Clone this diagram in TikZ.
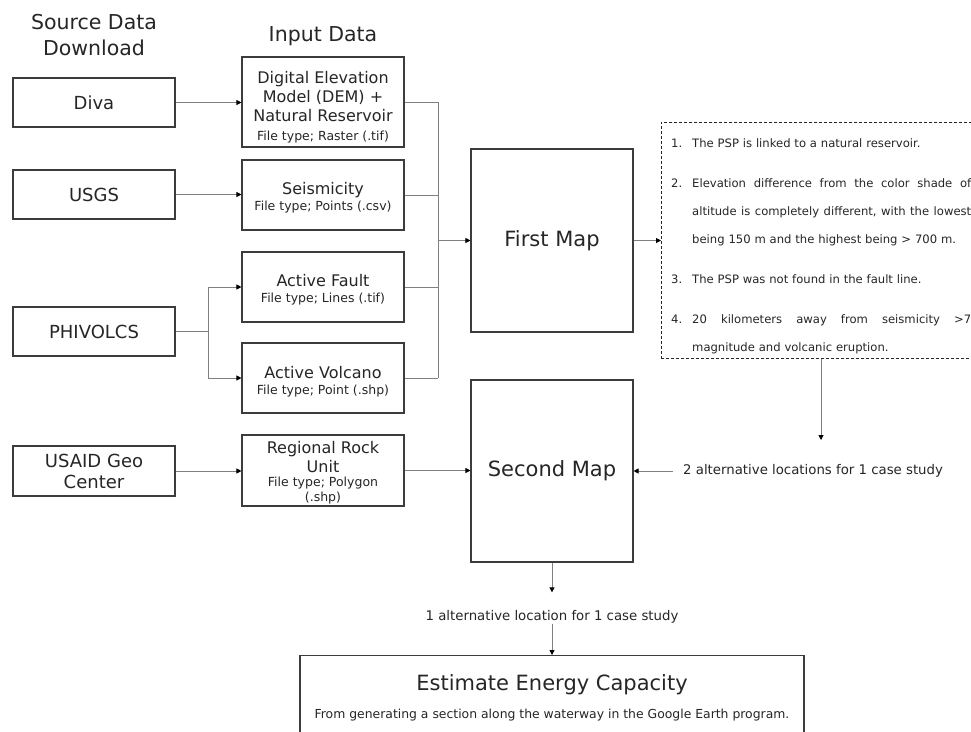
\documentclass[tikz,border=0pt]{standalone}
\usepackage{fontspec}
\setmainfont{DejaVu Sans}
\usetikzlibrary{arrows.meta}
\newcommand\myfs[2]{\fontsize{#1}{#2}\selectfont}
\newcommand\ftp[1]{{\myfs{12.5}{14}#1}}
\newcommand\jline[1]{\makebox[279pt][l]{#1}}
\definecolor{txt}{HTML}{262626}
\definecolor{bord}{HTML}{3C3C3C}
\definecolor{lin}{HTML}{808080}
\begin{document}
\begin{tikzpicture}[x=1pt,y=-1pt,
 box/.style={draw=bord, line width=1.1pt, minimum width=162pt, inner sep=0pt, align=center, text=txt},
 srcbox/.style={box, minimum height=49pt, font=\myfs{18}{21}},
 inbox/.style={box, minimum height=70pt, font=\myfs{16}{19}},
 mapbox/.style={box, font=\myfs{21}{25}},
 conn/.style={draw=lin, line width=0.9pt},
 arr/.style={conn, -{Triangle[length=5pt,width=5pt,color=black]}},
 ttl/.style={text=txt, font=\myfs{20.5}{26}, align=center},
 note/.style={text=txt, font=\myfs{13.3}{15}, inner sep=0pt},
]
\fill[white] (0,0) rectangle (971,731);

% titles
\node[ttl] (srcT) at (94,35) {Source Data\\Download};
\node[ttl] (inT) at (323,36) {Input Data};

% source boxes
\node[srcbox] (diva) at (94,102.5) {Diva};
\node[srcbox] (usgs) at (94,194.5) {USGS};
\node[srcbox] (phiv) at (94,331.5) {PHIVOLCS};
\node[srcbox, minimum height=50pt] (usaid) at (94,471) {USAID Geo\\Center};

% input boxes
\node[inbox, minimum height=90pt] (dem) at (323,102) {\rule{0pt}{23pt}Digital Elevation\\Model (DEM) +\\Natural Reservoir\\\ftp{File type; Raster (.tif)}};
\node[inbox] (seis) at (323,195) {\rule{0pt}{17pt}Seismicity\\[-3pt]\ftp{File type; Points (.csv)}};
\node[inbox] (fault) at (323,287) {\rule{0pt}{18pt}Active Fault\\[-3pt]\ftp{File type; Lines (.tif)}};
\node[inbox] (volc) at (323,378) {\rule{0pt}{19pt}Active Volcano\\[-3pt]\ftp{File type; Point (.shp)}};
\node[inbox, minimum height=71pt] (rock) at (323,470.5) {\rule{0pt}{17pt}Regional Rock\\Unit\\[-5pt]\ftp{File type; Polygon}\\[-4pt]\ftp{(.shp)}};

% maps
\node[mapbox, minimum height=183pt] (first) at (552,240.5) {First Map};
\node[mapbox, minimum height=182pt] (second) at (552,471) {Second Map};

% criteria (dashed)
\node[draw=black!85, dashed, dash pattern=on 3pt off 2pt, line width=0.9pt, minimum width=340pt, minimum height=236pt, anchor=north west, inner sep=0pt] (crit) at (661,122) {};
\node[anchor=north west, inner sep=0pt, text=txt, font=\myfs{11.6}{28}, align=left, text width=310pt] (lst) at (671,138.5) {%
\makebox[21pt][l]{1.}The PSP is linked to a natural reservoir.\\[12pt]
\makebox[21pt][l]{2.}\jline{Elevation\hfill difference\hfill from\hfill the\hfill color\hfill shade\hfill of}\\
\hspace*{21pt}\jline{altitude\hfill is\hfill completely\hfill different,\hfill with\hfill the\hfill lowest}\\
\hspace*{21pt}being 150 m and the highest being > 700 m.\\[12pt]
\makebox[21pt][l]{3.}The PSP was not found in the fault line.\\[12pt]
\makebox[21pt][l]{4.}\jline{20\hfill kilometers\hfill away\hfill from\hfill seismicity\hfill >7}\\
\hspace*{21pt}magnitude and volcanic eruption.};

% notes
\node[note, anchor=west] (alt2) at (683,471) {2 alternative locations for 1 case study};
\coordinate (alt2top) at (821,440);
\node[note] (alt1) at (552,617) {1 alternative location for 1 case study};

% estimate
\node[box, minimum width=504pt, minimum height=84pt, anchor=north, font=\myfs{21}{28}] (est) at (552,655) {Estimate Energy Capacity\\{\myfs{12.4}{14}From generating a section along the waterway in the Google Earth program.}};

% connectors
\draw[arr] (diva.east) -- (diva.east -| dem.west);
\draw[arr] (usgs.east) -- (usgs.east -| seis.west);
\draw[arr] (usaid.east) -- (usaid.east -| rock.west);

\coordinate (pb) at (208,0);
\draw[conn] (phiv.east) -- (phiv.east -| pb);
\draw[conn] (fault.west -| pb) -- (volc.west -| pb);
\draw[arr] (fault.west -| pb) -- (fault.west);
\draw[arr] (volc.west -| pb) -- (volc.west);

\coordinate (bus) at (438,0);
\draw[conn] (dem.east) -- (dem.east -| bus);
\draw[conn] (seis.east) -- (seis.east -| bus);
\draw[conn] (fault.east) -- (fault.east -| bus);
\draw[conn] (volc.east) -- (volc.east -| bus);
\draw[conn] (dem.east -| bus) -- (volc.east -| bus);
\draw[arr] (first.west -| bus) -- (first.west);

\draw[arr] (first.east) -- (first.east -| crit.west);
\draw[arr] (rock.east) -- (rock.east -| second.west);
\draw[arr] (crit.south -| alt2top) -- (alt2top);
\draw[arr] ([xshift=-10pt]alt2.west) -- (alt2.west -| second.east);
\draw[arr] (second.south) -- ([yshift=18pt]alt1.north);
\draw[arr] (alt1.south) -- (est.north);

\pgfresetboundingbox
\path[use as bounding box] (0,0) rectangle (971,731);
\end{tikzpicture}
\end{document}
